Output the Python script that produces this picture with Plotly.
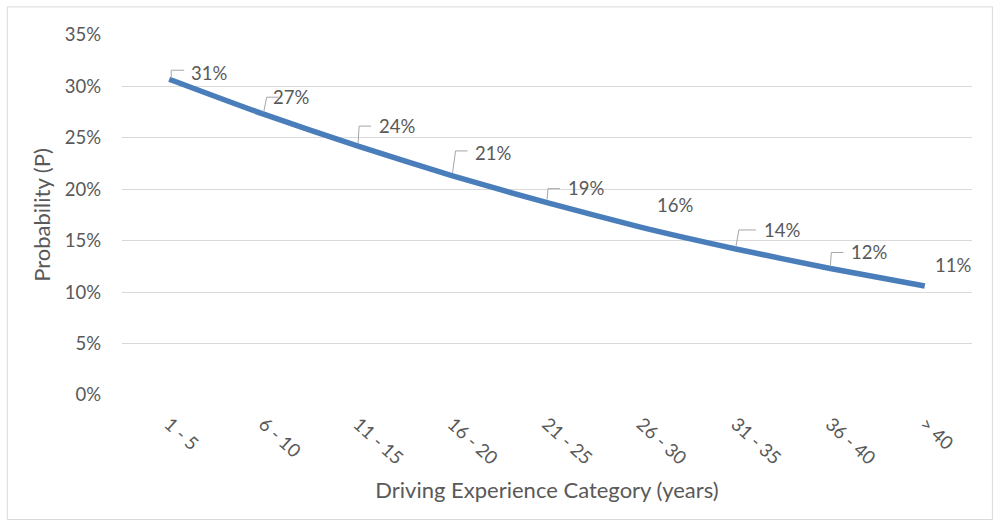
import plotly.graph_objects as go

# Probability of an event by driving experience band
categories = ["1 - 5", "6 - 10", "11 - 15", "16 - 20", "21 - 25",
              "26 - 30", "31 - 35", "36 - 40", "> 40"]
probability = [0.307, 0.273, 0.242, 0.213, 0.187, 0.163, 0.142, 0.123, 0.106]
y_ticks = [0, 0.05, 0.10, 0.15, 0.20, 0.25, 0.30, 0.35]

FONT = "Lato"
TEXT_GREY = "#595959"
LINE_BLUE = "#4a7ebb"

# label offsets (px) from each point, and the elbow leader path (px, y up)
label_offsets = [(40, -6), (27, -17), (39, -20), (40, -23), (39, -15),
                 (34, -22), (46, -19), (39, -16), (28, -21)]
leaders = ["M 2,1 L 2,9 L 15,9", "M 0,2 L 3,17 L 15,17", "M 0,3 L 1,20 L 13,20",
           "M 0,3 L 3,25 L 15,25", "M 0,3 L 1,14 L 13,14", None,
           "M 0,2 L 3,19 L 20,19", "M 0,2 L 1,16 L 13,16", None]

fig = go.Figure()
fig.add_trace(go.Scatter(
    x=list(range(len(categories))), y=probability, mode="lines",
    line=dict(color=LINE_BLUE, width=5.5, shape="spline", smoothing=0.6),
    hoverinfo="skip", showlegend=False))

annotations = []
shapes = []
for i, v in enumerate(probability):
    dx, dy = label_offsets[i]
    annotations.append(dict(
        x=i, y=v, xref="x", yref="y", text=f"{v:.0%}", showarrow=False,
        xshift=dx, yshift=-dy, font=dict(family=FONT, size=18.5, color=TEXT_GREY)))
    if leaders[i]:
        shapes.append(dict(
            type="path", xref="x", yref="y", xsizemode="pixel", ysizemode="pixel",
            xanchor=i, yanchor=v, path=leaders[i],
            line=dict(color="#a6a6a6", width=1)))

# outer chart border
shapes.append(dict(type="rect", xref="paper", yref="paper", x0=-0.135, x1=1.024,
                   y0=-0.346, y1=1.078, line=dict(color="#d9d9d9", width=1), layer="below"))

fig.update_layout(
    width=995, height=522,
    margin=dict(l=122, r=23, t=35, b=127),
    paper_bgcolor="white", plot_bgcolor="white",
    font=dict(family=FONT, color=TEXT_GREY, size=18),
    annotations=annotations, shapes=shapes,
    xaxis=dict(
        tickmode="array", tickvals=list(range(len(categories))), ticktext=categories,
        range=[-0.5, len(categories) - 0.5], tickangle=42,
        showgrid=False, zeroline=False, showline=False,
        ticks="", ticklabelstandoff=14,
        tickfont=dict(family=FONT, size=18.5, color=TEXT_GREY),
        title=dict(text="Driving Experience Category (years)", standoff=14,
                   font=dict(family=FONT, size=22, color=TEXT_GREY))),
    yaxis=dict(
        range=[0, 0.35], tickvals=y_ticks, tickformat=".0%",
        showgrid=True, gridcolor="#d9d9d9", gridwidth=1,
        zeroline=False, showline=False, ticks="", ticklabelstandoff=20,
        tickfont=dict(family=FONT, size=18.5, color=TEXT_GREY),
        title=dict(text="Probability (P)", standoff=8,
                   font=dict(family=FONT, size=22, color=TEXT_GREY))),
)

fig.write_html("out.html")
